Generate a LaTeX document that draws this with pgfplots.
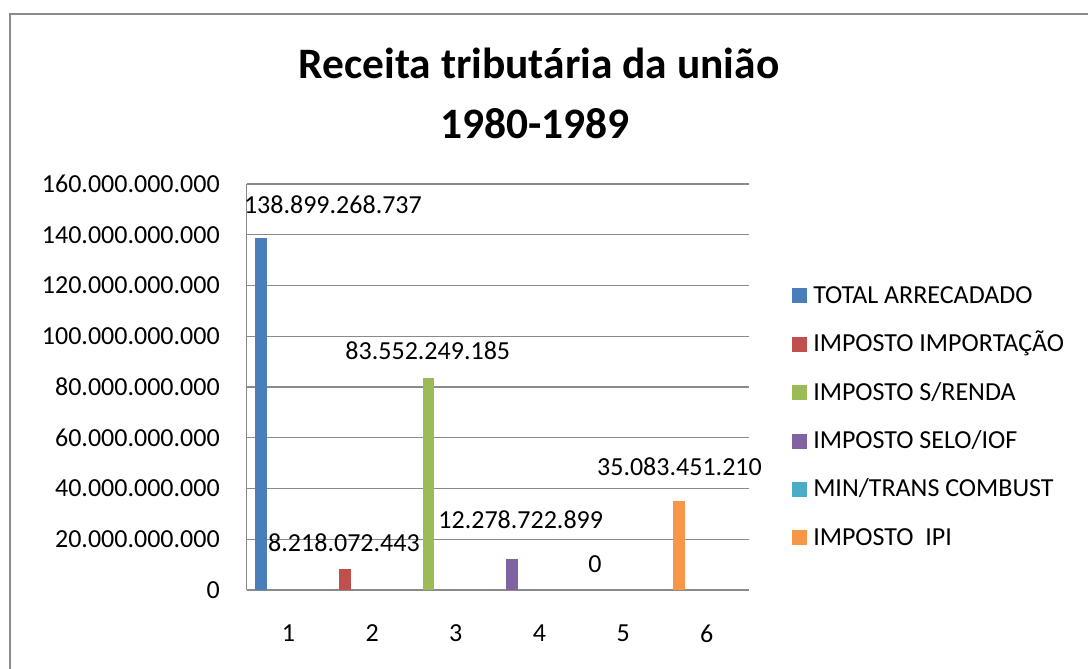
\documentclass[border=0pt]{standalone}
\usepackage{fontspec}
\setmainfont{Carlito}
\usepackage{pgfplots}
\pgfplotsset{compat=1.18}
\definecolor{c1}{HTML}{4A7EBB}
\definecolor{c2}{HTML}{C0504D}
\definecolor{c3}{HTML}{9BBB59}
\definecolor{c4}{HTML}{8064A2}
\definecolor{c5}{HTML}{4BACC6}
\definecolor{c6}{HTML}{F79646}
\definecolor{gridgray}{HTML}{8A8A8A}
\definecolor{framegray}{HTML}{8C8C8C}
\newcommand{\lbl}{\fontsize{19.5}{23}\selectfont}
\newcommand{\sq}[1]{\textcolor{#1}{\rule{11.25pt}{11.25pt}}\hspace{4.5pt}}
\begin{document}
\begin{tikzpicture}
\useasboundingbox (0,0) rectangle (816pt,-501pt);
\draw[framegray, line width=1.5pt] (7.5pt,-502pt) -- (7.5pt,-10.5pt) -- (817pt,-10.5pt);
\node[anchor=base, font=\fontsize{32.6}{40}\selectfont\bfseries] at (404.25pt,-58.5pt) {Receita tributária da união};
\node[anchor=base, font=\fontsize{32.6}{40}\selectfont\bfseries] at (401.25pt,-103.5pt) {1980-1989};
\begin{axis}[
  at={(185pt,-442.5pt)}, anchor=south west,
  width=376.5pt, height=304.5pt, scale only axis,
  xmin=0.5, xmax=6.5, ymin=0, ymax=160e9,
  axis x line*=bottom, axis y line*=left,
  x axis line style={draw=gridgray, line width=1.5pt, -},
  y axis line style={draw=gridgray, line width=0.8pt, -},
  scaled y ticks=false,
  ytick={0,2e10,4e10,6e10,8e10,1e11,1.2e11,1.4e11,1.6e11},
  yticklabels={0,20.000.000.000,40.000.000.000,60.000.000.000,80.000.000.000,100.000.000.000,120.000.000.000,140.000.000.000,160.000.000.000},
  xtick={1,2,3,4,5,6},
  xticklabels={1,2,3,4,5,6},
  major tick length=0pt,
  ymajorgrids, grid style={gridgray, line width=0.8pt},
  tick label style={font=\lbl},
  yticklabel style={anchor=east, inner sep=0pt, xshift=-20pt},
  xticklabel style={anchor=north, inner sep=0pt, yshift=-26pt},
  mybar/.style={ybar, fill=#1, draw=none, bar width=8.8pt, bar shift=-20.6pt, forget plot},
  legend style={at={(1.0863,0.4286)}, anchor=west, draw=none, fill=none,
    inner sep=0pt, font=\lbl, row sep=23.7pt, column sep=0pt,
    nodes={inner sep=0pt, text height=12.6pt, text depth=0pt}},
  legend cell align=left,
  clip=false,
]
\addplot[mybar=c1] coordinates {(1,138899268737)};
\addplot[mybar=c2] coordinates {(2,8218072443)};
\addplot[mybar=c3] coordinates {(3,83552249185)};
\addplot[mybar=c4] coordinates {(4,12278722899)};
\addplot[mybar=c5] coordinates {(5,0)};
\addplot[mybar=c6] coordinates {(6,35083451210)};
\addlegendimage{legend image code/.code={}}\addlegendentry{\sq{c1}TOTAL ARRECADADO}
\addlegendimage{legend image code/.code={}}\addlegendentry{\sq{c2}IMPOSTO IMPORTAÇÃO}
\addlegendimage{legend image code/.code={}}\addlegendentry{\sq{c3}IMPOSTO S/RENDA}
\addlegendimage{legend image code/.code={}}\addlegendentry{\sq{c4}IMPOSTO SELO/IOF}
\addlegendimage{legend image code/.code={}}\addlegendentry{\sq{c5}MIN/TRANS COMBUST}
\addlegendimage{legend image code/.code={}}\addlegendentry{\sq{c6}IMPOSTO\ \ IPI}
\node[font=\lbl, inner sep=0pt] at (axis cs:1.531,151.7e9) {138.899.268.737};
\node[font=\lbl, inner sep=0pt] at (axis cs:1.663,18.5e9) {8.218.072.443};
\node[font=\lbl, inner sep=0pt] at (axis cs:2.665,94.2e9) {83.552.249.185};
\node[font=\lbl, inner sep=0pt] at (axis cs:3.776,27.6e9) {12.278.722.899};
\node[font=\lbl, inner sep=0pt] at (axis cs:4.663,10.1e9) {0};
\node[font=\lbl, inner sep=0pt] at (axis cs:5.673,48.6e9) {35.083.451.210};
\end{axis}
\end{tikzpicture}
\end{document}
